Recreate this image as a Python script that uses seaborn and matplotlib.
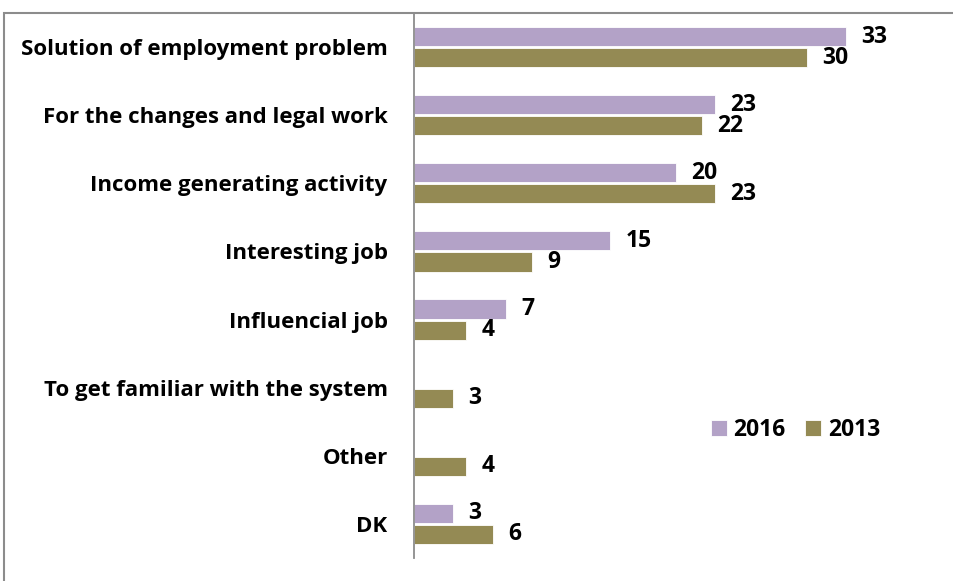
import matplotlib
matplotlib.use("Agg")
import matplotlib.pyplot as plt
import seaborn as sns
import pandas as pd
from matplotlib.patches import Rectangle

categories = [
    "Solution of employment problem",
    "For the changes and legal work",
    "Income generating activity",
    "Interesting job",
    "Influencial job",
    "To get familiar with the system",
    "Other",
    "DK",
]
years = ["2016", "2013"]
values_2016 = [33, 23, 20, 15, 7, None, None, 3]
values_2013 = [30, 22, 23, 9, 4, 3, 4, 6]
colors = {"2016": "#B3A2C7", "2013": "#948A54"}

rows = []
for cat, v16, v13 in zip(categories, values_2016, values_2013):
    rows.append({"category": cat, "year": "2016", "value": v16})
    rows.append({"category": cat, "year": "2013", "value": v13})
df = pd.DataFrame(rows)

sns.set_theme(style="white")
plt.rcParams["font.family"] = ["Open Sans", "DejaVu Sans"]
plt.rcParams["text.color"] = "#000000"
FS = 16
VS = 16.5

fig = plt.figure(figsize=(9.54, 5.81), dpi=100)
ax = fig.add_axes([414 / 954, 1 - 558 / 581, 1 - 414 / 954, (558 - 13) / 581])

sns.barplot(data=df, y="category", x="value", hue="year", order=categories,
            hue_order=years, palette=colors, saturation=1, orient="h",
            width=0.62, gap=0.1, edgecolor="#ffffff", linewidth=0.6,
            ax=ax, legend=True)

# value labels at the end of each bar
for container in ax.containers:
    labels = [f"{v:g}" if v == v and v is not None else "" for v in container.datavalues]
    ax.bar_label(container, labels=labels, padding=11, fontsize=VS,
                 fontweight="bold", color="#000000")

ax.set_xlim(0, (954 - 414) / 13.09)
ax.set_ylim(len(categories) - 0.5, -0.5)
ax.set_xlabel("")
ax.set_ylabel("")
ax.set_xticks([])
ax.tick_params(axis="y", length=0, pad=19)
for lbl in ax.get_yticklabels():
    lbl.set_fontsize(FS)
    lbl.set_fontweight("bold")
    lbl.set_color("#000000")

for side in ["top", "right", "bottom"]:
    ax.spines[side].set_visible(False)
ax.spines["left"].set_color("#8C8C8C")
ax.spines["left"].set_linewidth(1.3)

leg = ax.legend(loc="center left", bbox_to_anchor=(690 / 954, 1 - 430 / 581),
                bbox_transform=fig.transFigure, ncol=2, frameon=False,
                handlelength=0.7, handleheight=0.7, handletextpad=0.3,
                columnspacing=0.85, prop={"weight": "bold", "size": VS},
                labelcolor="#000000")

# outer frame of the chart area
fig.patches.append(Rectangle((4 / 954, -0.05), 1.2, 1 - 13 / 581 + 0.05,
                             transform=fig.transFigure, fill=False,
                             edgecolor="#8C8C8C", linewidth=1.5))

fig.savefig("out.png", dpi=100)
